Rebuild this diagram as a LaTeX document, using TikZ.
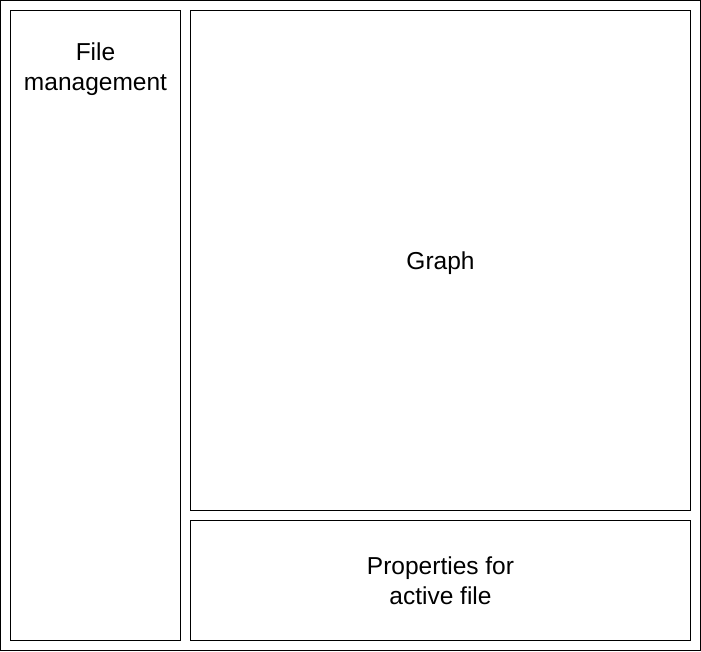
\documentclass[tikz,border=0pt]{standalone}
\usepackage{fontspec}
\setmainfont{Liberation Sans}
\usetikzlibrary{positioning}

\begin{document}
\begin{tikzpicture}[x=1pt,y=-1pt,line width=1pt,
   panel/.style={draw,inner sep=0pt,outer sep=0pt,text depth=0pt,align=center,font=\fontsize{24.5}{30}\selectfont},
   title/.style={inner sep=0pt,outer sep=0pt,align=center,font=\fontsize{24.5}{30}\selectfont}]
   \useasboundingbox (0,0) rectangle (701,651);
   \draw (0.5,0.5) rectangle (700.5,650.5);
   \node[panel,minimum width=170pt,minimum height=630pt,anchor=north west] (files) at (10.5,10.5) {};
   \node[title] (files_title) [below=32pt of files.north] {File\\management};
   \node[panel,minimum width=500pt,minimum height=500pt] (graph) [below right=0pt and 10pt of files.north east] {Graph};
   \node[panel,minimum width=500pt,minimum height=120pt] (props) [below=10pt of graph] {Properties for\\active file};
\end{tikzpicture}
\end{document}
